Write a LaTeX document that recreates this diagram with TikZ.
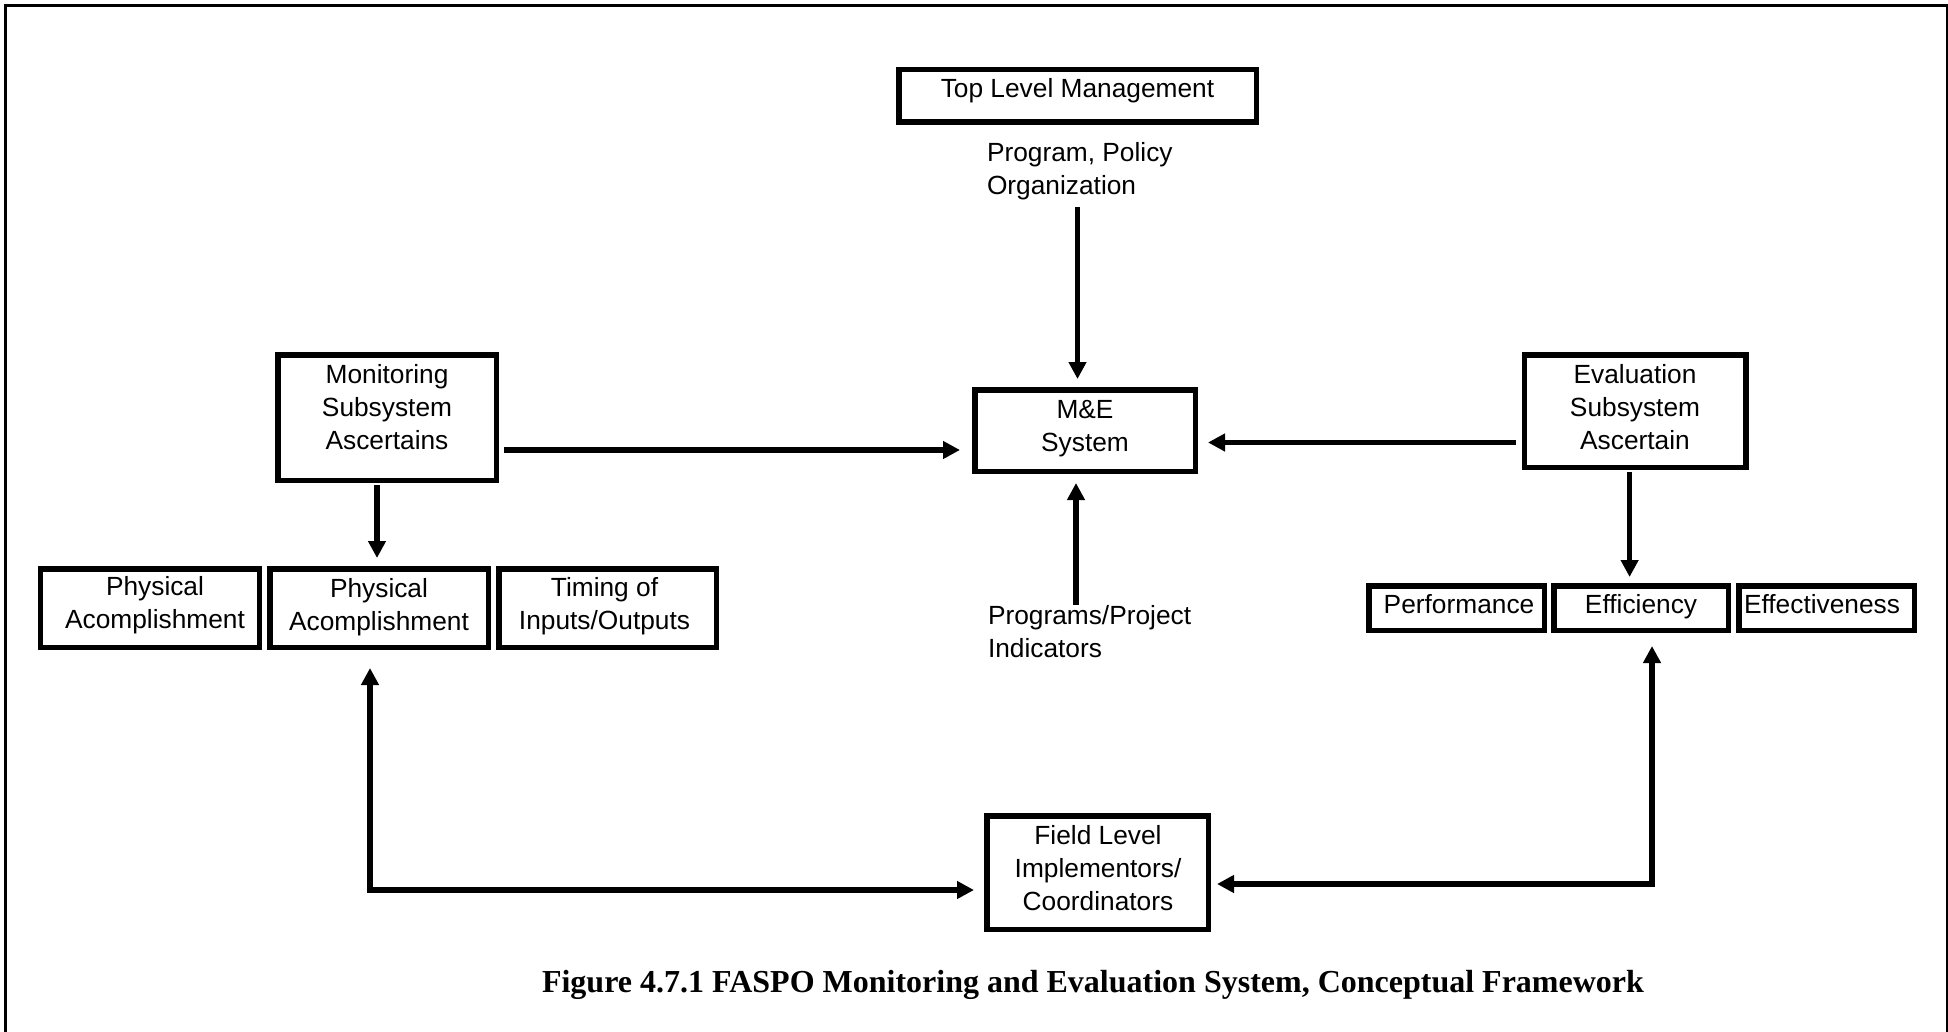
\documentclass[tikz,border=0pt]{standalone}
\usepackage{fontspec}
\setmainfont{Liberation Sans}
\newfontfamily\capfont{Liberation Serif}
\usetikzlibrary{arrows.meta}
% stacked lines whose baseline is the first line
\newcommand\txtlines[2][c]{\begin{tabular}[t]{@{}#1@{}}#2\end{tabular}}

\begin{document}
\begin{tikzpicture}[x=1pt,y=-1pt,
  box/.style={draw, line width=5.5pt, inner sep=0pt, outer sep=0pt, rectangle},
  lbl/.style={inner sep=0pt, outer sep=0pt, font=\fontsize{26.3pt}{33pt}\selectfont},
  captext/.style={inner sep=0pt, font=\capfont\bfseries\fontsize{32pt}{38pt}\selectfont},
  arr/.style={line width=5.5pt, -{Triangle[width=17pt,length=17pt]}},
  biarr/.style={line width=5.5pt, {Triangle[width=17pt,length=17pt]}-{Triangle[width=17pt,length=17pt]}}]
\useasboundingbox (0,0) rectangle (1948,1032);
\clip (0,0) rectangle (1948,1032);
\draw[line width=2.7pt] (5.3,5.3) rectangle (1947.5,1045);

% boxes
\node[box, minimum width=357.5, minimum height=52.5] (top)   at (1077.5,96)   {};
\node[box, minimum width=220.5, minimum height=81.5] (me)    at (1085,430.5)  {};
\node[box, minimum width=218.5, minimum height=125.5] (mon)  at (387,417.5)   {};
\node[box, minimum width=221.5, minimum height=112.5] (eval) at (1635,411)    {};
\node[box, minimum width=219,   minimum height=78.5] (pa1)   at (150,608)     {};
\node[box, minimum width=218.5, minimum height=78.5] (pa2)   at (379,608)     {};
\node[box, minimum width=217.5, minimum height=78.5] (tio)   at (607.5,608)   {};
\node[box, minimum width=175.5, minimum height=44.5] (perf)  at (1456.5,608)  {};
\node[box, minimum width=174.5, minimum height=44.5] (effi)  at (1641,608)    {};
\node[box, minimum width=175.5, minimum height=44.5] (effe)  at (1826.5,608)  {};
\node[box, minimum width=221.5, minimum height=113.5] (field) at (1097.5,872.5) {};

% box texts
\node[lbl, anchor=base] (toptxt)   at (1077.5,98) {Top Level Management};
\node[lbl, anchor=base] (metxt)    at (1085,418)  {\txtlines{M\&E\\System}};
\node[lbl, anchor=base] (montxt)   at (387,383)   {\txtlines{Monitoring\\Subsystem\\Ascertains}};
\node[lbl, anchor=base] (evaltxt)  at (1635,383)  {\txtlines{Evaluation\\Subsystem\\Ascertain}};
\node[lbl, anchor=base] (pa1txt)   at (155,595)   {\txtlines{Physical\\Acomplishment}};
\node[lbl, anchor=base] (pa2txt)   at (379,597)   {\txtlines{Physical\\Acomplishment}};
\node[lbl, anchor=base] (tiotxt)   at (604.5,596) {\txtlines{Timing of\\Inputs/Outputs}};
\node[lbl, anchor=base] (perftxt)  at (1459,613)  {Performance};
\node[lbl, anchor=base] (effitxt)  at (1641,613)  {Efficiency};
\node[lbl, anchor=base] (effetxt)  at (1822,613)  {Effectiveness};
\node[lbl, anchor=base] (fieldtxt) at (1098,844)  {\txtlines{Field Level\\Implementors/\\Coordinators}};

% free labels
\node[lbl, anchor=base west] (tlab) at (987,162) {\txtlines[l]{Program, Policy\\Organization}};
\node[lbl, anchor=base west] (plab) at (988,624) {\txtlines[l]{Programs/Project\\Indicators}};

% connectors
\draw[arr, shorten <=2.1pt, shorten >=10.75pt] (tlab.south -| top.south) -- (top.south |- me.north);
\draw[arr, shorten <=7.75pt, shorten >=14.75pt] ([yshift=-32.5pt]mon.east) -- ([yshift=-32.5pt]mon.east -| me.west);
\draw[arr, shorten <=8.25pt, shorten >=12.75pt] ([yshift=-31.5pt]eval.west) -- ([yshift=-31.5pt]eval.west -| me.east);
\draw[arr, shorten <=4.75pt, shorten >=10.75pt] ([xshift=-10pt]mon.south) -- ([xshift=-10pt]mon.south |- pa2.north);
\draw[arr, shorten <=4.75pt, shorten >=8.75pt] ([xshift=-5.4pt]eval.south) -- ([xshift=-5.4pt]eval.south |- effi.north);
\draw[arr, shorten <=-3.9pt, shorten >=11.75pt] ([xshift=-9pt]me.south |- plab.north) -- ([xshift=-9pt]me.south);
\draw[biarr, shorten <=20.75pt, shorten >=12.75pt] ([xshift=-9pt]pa2.south) |- ([yshift=-17.5pt]field.west);
\draw[biarr, shorten <=15.75pt, shorten >=8.75pt] ([xshift=11pt]effi.south) |- ([yshift=-11.5pt]field.east);

% caption
\node[captext, anchor=base] (caption) at (1093,992) {Figure 4.7.1 FASPO Monitoring and Evaluation System, Conceptual Framework};
\end{tikzpicture}
\end{document}
